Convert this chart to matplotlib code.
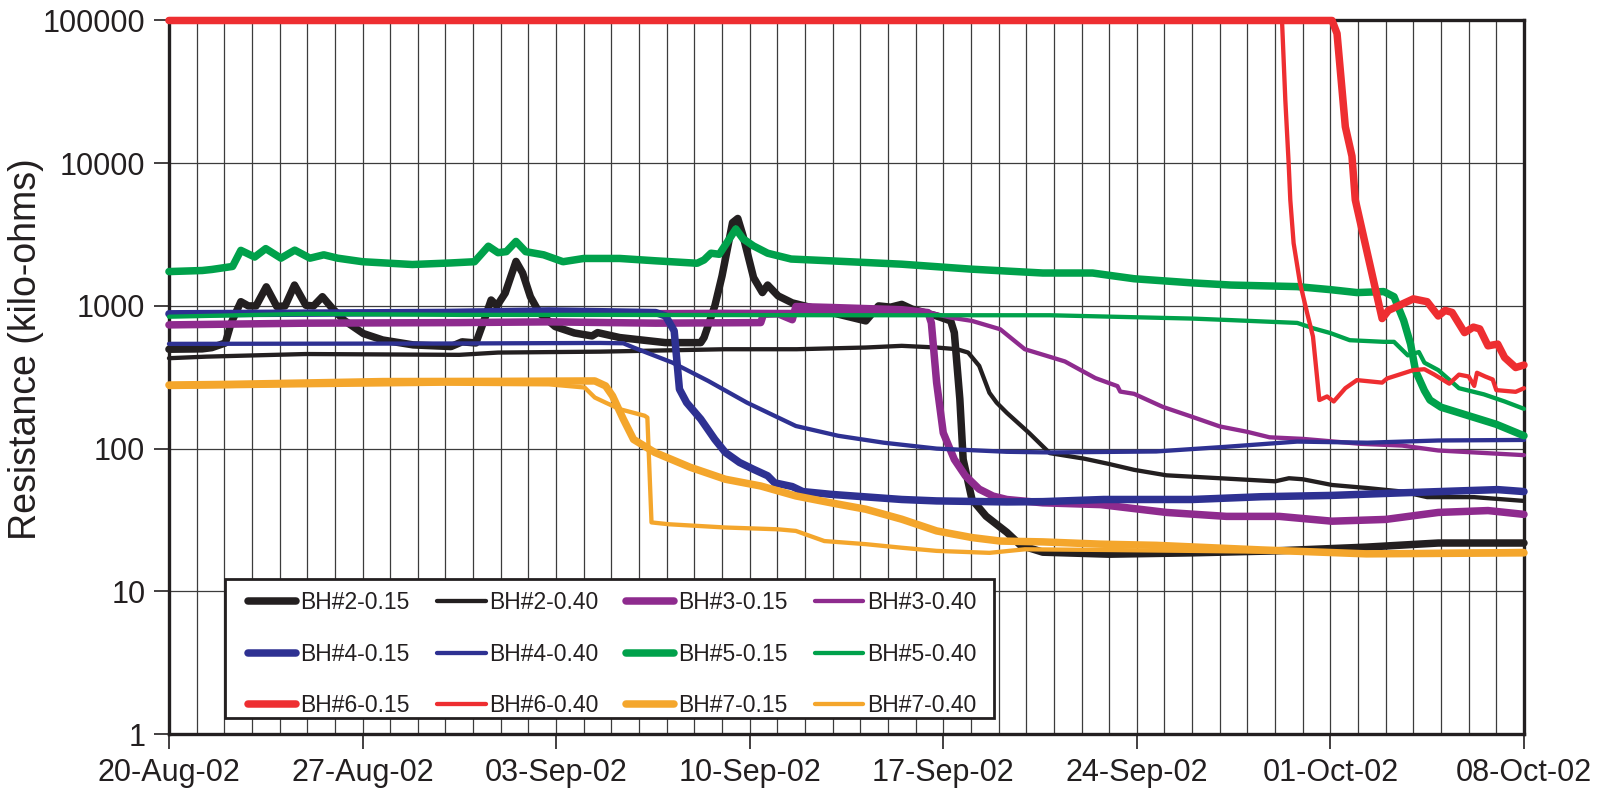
import numpy as np
import pandas as pd
import matplotlib
matplotlib.use("Agg")
import matplotlib.pyplot as plt
import matplotlib.dates as mdates
from matplotlib.patches import Rectangle
from matplotlib.ticker import FixedLocator, NullLocator, FuncFormatter

plt.rcParams['font.family'] = ['Liberation Sans', 'DejaVu Sans']

# ---- logger readings: days after 20-Aug-02, resistance in kilo-ohms ----
bh2_015_day = [0, 1.2, 1.55, 2.04, 2.25, 2.6, 2.87, 3.15, 3.52, 3.9, 4.2, 4.54, 4.95, 5.23,
               5.55, 5.92, 6.34, 7.03, 7.73, 8.83, 10.2, 10.6, 11.1, 11.4, 11.65, 11.86, 12.16,
               12.55, 12.79, 13.07, 13.4, 13.97, 14.66, 15.3, 15.5, 16.3, 17.95, 19.23, 19.35,
               19.74, 20.0, 20.38, 20.57, 20.76, 21.14, 21.46, 21.65, 22.03, 22.54, 23.94, 25.2,
               25.66, 26.1, 26.5, 26.87, 27.76, 28.27, 28.4, 28.6, 28.72, 29.04, 29.55, 30.3,
               30.8, 31.6, 34.0, 37.0, 40.0, 43.3, 45.9, 49]
bh2_015_val = [497, 500, 510, 550, 760, 1070, 1000, 1000, 1360, 990, 1000, 1400, 1010, 1000,
               1160, 955, 790, 640, 577, 533, 519, 560, 550, 795, 1100, 1000, 1230,
               2050, 1700, 1160, 890, 716, 646, 616, 650, 600, 553, 553, 600,
               1000, 1620, 3830, 4100, 3100, 1580, 1240, 1400, 1175, 1050, 900, 785,
               1000, 980, 1025, 950, 850, 785, 650, 222, 84, 44, 33.6, 25.9,
               21, 18.8, 18.2, 18.6, 19.2, 20.4, 21.8, 21.8]

bh2_040_day = [0, 1.35, 4.95, 10.5, 11.9, 15.6, 20.1, 22.7, 25.2, 26.5, 27.76, 28.5, 28.9,
               29.3, 29.67, 29.93, 30.3, 31.1, 31.85, 33.1, 34.0, 34.9, 36.07, 38.0, 40.0,
               40.5, 41.0, 42.06, 43.3, 44.6, 45.5, 47.2, 49]
bh2_040_val = [430, 441, 460, 454, 471, 478, 497, 497, 511, 525, 511, 497, 471,
               380, 246, 210, 178, 129, 93, 85, 78, 71, 65, 62, 59,
               62, 61, 55.6, 53, 50, 45.7, 45.7, 43]

bh3_015_day = [0, 5, 10.5, 13.75, 17.6, 21.4, 21.5, 22.03, 22.54, 22.67, 23.94, 26.5, 27.45,
               27.57, 27.76, 28.0, 28.4, 28.8, 29.3, 29.8, 30.3, 31.6, 33.7, 36.07, 38.24,
               40.15, 42.06, 44.0, 45.9, 47.7, 49]
bh3_015_val = [736, 757, 764, 773, 757, 764, 875, 880, 800, 990, 975, 940, 898,
               760, 290, 129, 84, 64.5, 52, 46.5, 44, 41.7, 40.5, 35.7, 33.5,
               33.5, 31, 31.9, 35.7, 36.8, 34.6]

bh3_040_day = [0, 5, 10, 15, 20, 25, 27.5, 28.27, 29.04, 30.06, 30.95, 31.85, 32.4, 32.9,
               33.5, 34.3, 34.4, 34.9, 35.94, 37.0, 38.0, 39.0, 39.8, 41.0, 43.1, 44.6, 45.9, 49]
bh3_040_val = [880, 885, 890, 900, 910, 905, 898, 828, 785, 686, 497, 440, 408, 361,
               312, 274, 251, 242, 196, 167, 143, 131, 120, 117, 108, 105, 97, 90]

bh4_015_day = [0, 5, 10, 13.75, 17.6, 17.96, 18.27, 18.46, 18.72, 19.23, 19.74, 20.12, 20.63,
               21.14, 21.65, 21.9, 22.54, 22.92, 23.94, 26.5, 27.76, 30.3, 31.6, 33.8, 37.0,
               39.5, 42.06, 44.6, 48.05, 49]
bh4_015_val = [880, 890, 900, 922, 898, 850, 668, 261, 210, 161, 116, 94, 80,
               71.6, 64.5, 57.6, 54.2, 50, 47.8, 44, 43, 42.3, 42.5, 44, 44,
               46, 47, 49, 51.6, 50]

bh4_040_day = [0, 10, 15.6, 16.43, 16.8, 18.2, 19.5, 20.9, 22.67, 24.2, 25.85, 27.76, 30.3,
               31.86, 35.7, 38.24, 40.8, 43.34, 45.9, 49]
bh4_040_val = [542, 545, 550, 547, 511, 401, 298, 210, 144, 123, 110, 100, 95,
               94, 95.5, 103, 112, 110, 114, 115]

bh5_015_day = [0, 1.2, 1.55, 2.3, 2.6, 3.1, 3.5, 4.05, 4.55, 5.1, 5.6, 6.1, 7.0, 8.8, 10.2,
               11.05, 11.55, 11.9, 12.2, 12.55, 12.9, 13.55, 14.25, 15.0, 16.3, 17.6, 19.1,
               19.35, 19.6, 19.9, 20.5, 20.76, 21.14, 21.65, 22.5, 23.9, 26.5, 29.0, 31.6,
               33.4, 34.9, 37.0, 38.4, 40.8, 42.0, 42.96, 43.93, 44.3, 44.65, 44.9, 45.08,
               45.4, 45.6, 46.0, 47.17, 48.0, 49]
bh5_015_val = [1740, 1770, 1800, 1890, 2450, 2200, 2520, 2160, 2460, 2160, 2280, 2160, 2040,
               1950, 2000, 2040, 2620, 2360, 2400, 2830, 2400, 2280, 2040, 2150, 2150, 2070,
               1990, 2100, 2340, 2300, 3460, 2950, 2630, 2340, 2130, 2070, 1960, 1810, 1700,
               1700, 1550, 1450, 1400, 1365, 1300, 1240, 1260, 1160, 790, 540, 350,
               255, 219, 195, 166, 148, 123]

bh5_040_day = [0, 5, 10.5, 15.6, 25, 31.86, 37, 38.4, 40.8, 41.4, 42.0, 42.7, 43.93, 44.3,
               44.8, 45.2, 45.4, 45.9, 46.65, 47.55, 48.3, 49]
bh5_040_val = [840, 880, 865, 865, 860, 860, 815, 795, 760, 695, 645, 575, 560, 560,
               450, 475, 400, 355, 265, 240, 214, 190]

bh6_015_day = [0, 42.06, 42.24, 42.54, 42.78, 42.9, 43.87, 44.1, 45.0, 45.5, 45.9, 46.15,
               46.4, 46.85, 47.17, 47.4, 47.7, 48.05, 48.3, 48.7, 49]
bh6_015_val = [100000, 100000, 81000, 18000, 11200, 5530, 815, 930, 1120, 1070, 850, 930,
               900, 650, 710, 690, 525, 540, 435, 370, 385]

bh6_040_day = [0, 40.25, 40.37, 40.49, 40.55, 40.67, 40.9, 41.16, 41.37, 41.6, 41.88, 42.12,
               42.54, 42.96, 43.87, 44.05, 45.0, 45.4, 45.76, 46.3, 46.65, 47.0, 47.2, 47.3,
               47.6, 47.87, 48.0, 48.7, 49]
bh6_040_val = [100000, 100000, 27700, 10000, 5530, 2750, 1450, 890, 610, 219, 232, 214,
               265, 302, 290, 310, 355, 360, 330, 285, 330, 320, 275, 340,
               320, 305, 257, 250, 265]

bh7_015_day = [0, 2.2, 7.73, 11.9, 15.4, 15.79, 16.04, 16.43, 16.8, 17.57, 18.85, 20.12,
               21.4, 22.67, 23.94, 25.2, 26.5, 27.76, 29.04, 30.06, 31.6, 33.7, 35.7, 39.5,
               43.3, 49]
bh7_015_val = [279, 282, 295, 296, 298, 275, 234, 161, 116, 94, 74, 61,
               54.7, 46.6, 41.7, 37.6, 32, 26.5, 23.8, 22.5, 22.2, 21.4, 21, 19.5,
               18.3, 18.6]

bh7_040_day = [0, 5, 10, 13.75, 15.03, 15.4, 15.79, 16.3, 17.2, 17.3, 17.45, 18.08, 20.12,
               22.03, 22.67, 23.7, 25.2, 26.5, 27.76, 29.67, 30.95, 33.7, 37, 43.3, 49]
bh7_040_val = [270, 278, 285, 282, 268, 228, 210, 189, 170, 165, 30.4, 29.5, 28,
               27.2, 26.5, 22.5, 21.4, 20.2, 19.2, 18.6, 19.7, 19.5, 19.2, 18.6, 19.2]

labels = ["BH#2-0.15", "BH#2-0.40", "BH#3-0.15", "BH#3-0.40",
          "BH#4-0.15", "BH#4-0.40", "BH#5-0.15", "BH#5-0.40",
          "BH#6-0.15", "BH#6-0.40", "BH#7-0.15", "BH#7-0.40"]
series = [(bh2_015_day, bh2_015_val), (bh2_040_day, bh2_040_val),
          (bh3_015_day, bh3_015_val), (bh3_040_day, bh3_040_val),
          (bh4_015_day, bh4_015_val), (bh4_040_day, bh4_040_val),
          (bh5_015_day, bh5_015_val), (bh5_040_day, bh5_040_val),
          (bh6_015_day, bh6_015_val), (bh6_040_day, bh6_040_val),
          (bh7_015_day, bh7_015_val), (bh7_040_day, bh7_040_val)]
hole_colors = {"BH#2": "#231f20", "BH#3": "#8e2b8e", "BH#4": "#2e3192",
               "BH#5": "#00a14b", "BH#6": "#ee2e31", "BH#7": "#f4a62c"}

start = pd.Timestamp("2002-08-20")
tick_dates = pd.date_range(start, periods=8, freq="7D")
y_ticks = [1, 10, 100, 1000, 10000, 100000]
INK = "#231f20"

fig = plt.figure(figsize=(16.03, 7.88), dpi=100)
ax = fig.add_axes([0.1054, 0.0685, 0.8453, 0.9055])

handles = []
for name, (days, vals) in zip(labels, series):
    x = start + pd.to_timedelta(np.asarray(days, dtype=float), unit="D")
    thick = name.endswith("0.15")
    h, = ax.plot(x, vals, color=hole_colors[name[:4]], lw=5.4 if thick else 3.1,
                 solid_capstyle="round", solid_joinstyle="round",
                 clip_on=False, zorder=3, label=name)
    handles.append(h)

ax.set_yscale("log")
ax.set_ylim(1, 100000)
ax.set_xlim(start, start + pd.Timedelta(days=49))

ax.yaxis.set_major_locator(FixedLocator(y_ticks))
ax.yaxis.set_minor_locator(NullLocator())
ax.yaxis.set_major_formatter(FuncFormatter(lambda v, p: f"{v:.0f}"))
ax.xaxis.set_major_locator(FixedLocator(mdates.date2num(tick_dates)))
ax.xaxis.set_minor_locator(mdates.DayLocator())
ax.xaxis.set_major_formatter(mdates.DateFormatter("%d-%b-%y"))

ax.grid(True, which="both", axis="x", color="#3c3c3c", lw=0.9)
ax.grid(True, which="major", axis="y", color="#3c3c3c", lw=0.9)
ax.set_axisbelow(True)

ax.tick_params(axis="both", which="major", direction="out", length=11, width=1.2,
               color=INK, labelsize=22, labelcolor=INK, pad=6)
ax.tick_params(axis="x", which="minor", length=0)
for sp in ax.spines.values():
    sp.set_linewidth(2.4)
    sp.set_color(INK)

ax.set_ylabel("Resistance (kilo-ohms)", fontsize=27, color=INK)
ax.yaxis.set_label_coords(-0.092, 0.54)

# legend box drawn on its own, the entries sit inside without a frame
ax.add_patch(Rectangle((0.0413, 0.0225), 0.5677, 0.1945, transform=ax.transAxes,
                       facecolor="white", edgecolor=INK, lw=2.0, zorder=4))

# legend reads across rows, matplotlib fills down columns
order = [0, 4, 8, 1, 5, 9, 2, 6, 10, 3, 7, 11]
leg = ax.legend([handles[i] for i in order], [labels[i] for i in order],
                ncol=4, mode="expand", loc="center",
                bbox_to_anchor=(0.0586, 0.1117, 0.5372, 0.0),
                fontsize=16.5, handlelength=2.1, handletextpad=0.15,
                labelspacing=1.25, borderpad=0, borderaxespad=0,
                columnspacing=1.0, frameon=False)
leg.set_zorder(5)
for t in leg.get_texts():
    t.set_color(INK)

fig.savefig("out.png", dpi=100)
